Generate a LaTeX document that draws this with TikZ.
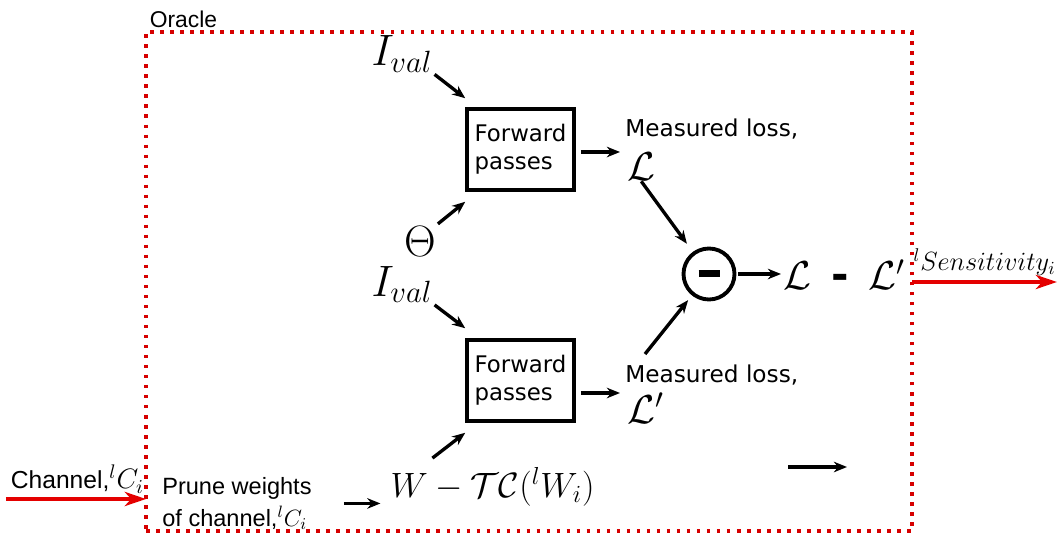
\RequirePackage{fix-cm}
\documentclass[tikz,border=0pt]{standalone}
\usepackage{fontspec}
\usetikzlibrary{arrows.meta}
\newfontfamily\dejavu{DejaVu Sans}
\newfontfamily\arialfont{Liberation Sans}
\definecolor{oraclered}{RGB}{214,0,0}
\definecolor{wirered}{RGB}{228,0,0}

\begin{document}
\begin{tikzpicture}[
  arr/.style={-{Stealth[length=7.5pt,width=6pt]},line width=1.9pt},
  redarr/.style={-{Stealth[length=12pt,width=8pt,inset=3.5pt]},line width=2.8pt,draw=wirered},
  oraclebox/.style={draw=oraclered,line width=2pt,dash pattern=on 2pt off 3.7pt,inner sep=0pt,outer sep=0pt},
  fwdbox/.style={draw,line width=2pt,minimum width=2.14cm,minimum height=1.62cm,align=left,inner sep=0pt,font=\dejavu\fontsize{13}{16}\selectfont},
  bigmath/.style={inner sep=1pt,font=\fontsize{20}{24}\selectfont},
  sanslbl/.style={inner sep=0pt,font=\arialfont\fontsize{13.4}{18}\selectfont},
  losslbl/.style={inner sep=0pt,anchor=base west,font=\dejavu\fontsize{13.2}{16}\selectfont}]
  \useasboundingbox (0,0) rectangle (21.28,10.68);
  \node[oraclebox,minimum width=15.32cm,minimum height=9.98cm] (oracle) at (10.58,5.05) {};
  \node[sanslbl,anchor=south west,inner sep=2pt,font=\arialfont\fontsize{13}{16}\selectfont] (oraclelbl) at (oracle.north west) {Oracle};

  \node[fwdbox] (fwdA) at (10.41,7.69) {Forward\\passes};
  \node[fwdbox] (fwdB) at (10.41,3.07) {Forward\\passes};
  \node[bigmath,font=\fontsize{25}{28}\selectfont] (ivalA) at (8.04,9.60) {$I_{val}$};
  \node[bigmath,font=\fontsize{25}{28}\selectfont] (theta) at (8.40,5.86) {$\Theta$};
  \node[bigmath,font=\fontsize{25}{28}\selectfont] (ivalB) at (8.04,4.99) {$I_{val}$};
  \node[bigmath] (wexp) at (9.85,0.94) {$W-\mathcal{T}\mathcal{C}(^lW_i)$};
  \node[sanslbl,anchor=north west,align=left] (prune) at (3.24,1.14) {Prune weights\\of channel,$^lC_i$};

  \node[losslbl] (lossA) at (12.5,7.94) {Measured loss,};
  \node[bigmath,anchor=base west,inner sep=0pt,font=\fontsize{23}{26}\selectfont] (LA) at (12.54,7.06) {$\mathcal{L}$};
  \node[losslbl] (lossB) at (12.5,3.04) {Measured loss,};
  \node[bigmath,anchor=base west,inner sep=0pt,font=\fontsize{23}{26}\selectfont] (LB) at (12.54,2.22) {$\mathcal{L}'$};

  \node[draw,circle,line width=2.2pt,minimum size=1.02cm,inner sep=0pt] (diff) at (14.18,5.20) {\rule{0.42cm}{0.14cm}};
  \node[anchor=base west,inner sep=0pt,font=\fontsize{23}{26}\selectfont] (res) at (15.66,4.88)
    {$\mathcal{L}$\hspace{0.4cm}{\dejavu\bfseries\fontsize{24}{24}\selectfont -}\hspace{0.4cm}$\mathcal{L}'$};

  \coordinate (chanin) at (0.12,0.70);
  \coordinate (sensout) at (21.14,5.04);
  \coordinate (strayA) at (15.76,1.34);
  \coordinate (strayB) at (16.94,1.34);

  \draw[arr] (ivalA.south east) -- ([yshift=0.18cm]fwdA.north west);
  \draw[arr] (theta.north east) -- ([yshift=-0.2cm]fwdA.south west);
  \draw[arr] (ivalB.south east) -- ([yshift=0.2cm]fwdB.north west);
  \draw[arr] ([xshift=0.88cm,yshift=0.15cm]wexp.north west) -- ([yshift=-0.2cm]fwdB.south west);
  \draw[arr] ([xshift=0.64cm]prune.east) -- ([xshift=-0.16cm]prune.east -| wexp.west);
  \draw[arr,shorten <=0.1cm,shorten >=0.1cm] ([yshift=-0.05cm]fwdA.east) -- ([yshift=-0.05cm]fwdA.east -| lossA.west);
  \draw[arr,shorten <=0.1cm,shorten >=0.1cm] ([yshift=-0.25cm]fwdB.east) -- ([yshift=-0.25cm]fwdB.east -| lossB.west);
  \draw[arr,shorten >=0.2cm] (LA.south) -- (diff);
  \draw[arr,shorten >=0.12cm] ([xshift=0.4cm,yshift=0.2cm]lossB.north west) -- (diff);
  \draw[arr,shorten <=0.04cm,shorten >=0.04cm] (diff) -- (diff -| res.west);
  \draw[arr] (strayA) -- (strayB);

  \draw[redarr] (chanin) -- (oracle.west |- chanin)
    node[pos=0.51,above,sanslbl,inner sep=2pt,font=\arialfont\fontsize{14}{16}\selectfont] {Channel,{\fontsize{16}{18}\selectfont$^lC_i$}};
  \draw[redarr] (oracle.east |- sensout) -- (sensout)
    node[midway,above,inner sep=2pt,font=\fontsize{15}{18}\selectfont] {$^lSensitivity_i$};
\end{tikzpicture}
\end{document}
